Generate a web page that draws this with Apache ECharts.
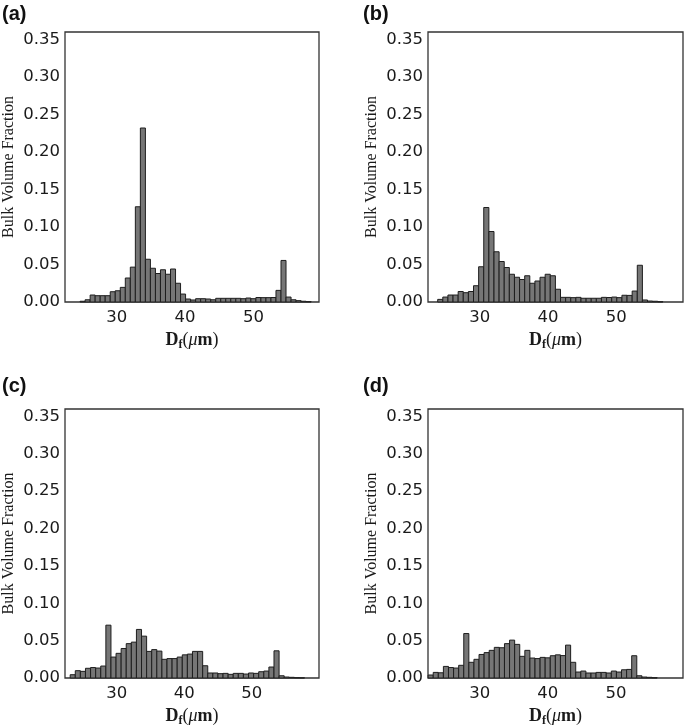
<!DOCTYPE html>
<html>
<head>
<meta charset="utf-8">
<script src="https://cdn.jsdelivr.net/npm/echarts@6/dist/echarts.min.js"></script>
<style>html,body{margin:0;padding:0;background:#fff;}#main{width:685px;height:728px;}</style>
</head>
<body>
<div id="main"></div>
<script>
// Panel labels
const panelLabels = ['(a)', '(b)', '(c)', '(d)'];
// Tick labels
const xTicks = [30, 40, 50];
const yTicks = [0, 0.05, 0.10, 0.15, 0.20, 0.25, 0.30, 0.35];
const yMax = 0.36;
const xLimits = [[22.43, 59.6], [22.43, 59.8], [22.33, 59.97], [22.43, 59.81]];
// Histogram bins: first edge and bin width (µm) per panel
const binStartA = 24.64, binWidthA = 0.735;
const binStartB = 23.85, binWidthB = 0.75;
const binStartC = 23.1,  binWidthC = 0.755;
const binStartD = 22.45, binWidthD = 0.746;
// Bulk volume fraction per bin
const valuesA = [0.001,0.003,0.0093,0.0084,0.0084,0.0084,0.0137,0.015,0.0195,0.032,0.0465,0.127,0.232,0.057,0.045,0.038,0.043,0.037,0.044,0.025,0.0106,0.004,0.0027,0.0044,0.0044,0.004,0.003,0.0049,0.0049,0.0049,0.0049,0.0049,0.0044,0.0053,0.0044,0.006,0.0058,0.0058,0.006,0.0155,0.0554,0.0066,0.003,0.0018,0.001,0.0005];
const valuesB = [0.0035,0.0066,0.0093,0.0093,0.014,0.0124,0.014,0.0217,0.047,0.126,0.094,0.067,0.054,0.046,0.037,0.033,0.030,0.035,0.025,0.028,0.033,0.037,0.035,0.017,0.0062,0.0062,0.0058,0.0062,0.005,0.005,0.005,0.005,0.0062,0.006,0.0066,0.0058,0.009,0.0088,0.0146,0.049,0.0027,0.0013,0.001,0.0004];
const valuesC = [0.0044,0.0098,0.0089,0.013,0.014,0.0133,0.016,0.0707,0.028,0.033,0.0395,0.046,0.048,0.065,0.056,0.0356,0.038,0.036,0.025,0.026,0.026,0.028,0.031,0.032,0.0356,0.0356,0.0164,0.0067,0.0067,0.0058,0.0062,0.0049,0.0062,0.0062,0.0053,0.0067,0.0062,0.0084,0.0093,0.0147,0.0364,0.003,0.0013,0.0009,0.0004,0.0002];
const valuesD = [0.004,0.0075,0.007,0.0155,0.014,0.0133,0.017,0.0595,0.021,0.025,0.0315,0.034,0.037,0.041,0.0405,0.046,0.0507,0.045,0.029,0.037,0.0267,0.026,0.0276,0.027,0.0298,0.031,0.030,0.044,0.021,0.008,0.0093,0.0067,0.0067,0.0075,0.0075,0.0067,0.0093,0.008,0.011,0.0115,0.0298,0.003,0.0013,0.0009,0.0004];

const panels = [
  {start: binStartA, width: binWidthA, values: valuesA},
  {start: binStartB, width: binWidthB, values: valuesB},
  {start: binStartC, width: binWidthC, values: valuesC},
  {start: binStartD, width: binWidthD, values: valuesD}
];

const gridPos = [
  {left: 64, top: 32}, {left: 428, top: 32},
  {left: 64, top: 409}, {left: 428, top: 409}
];
const labelPos = [[2, 4], [363, 4], [2, 376], [363, 376]];

const chart = echarts.init(document.getElementById('main'), null, {renderer: 'canvas'});

function renderBar(params, api) {
  const x0 = api.value(0), x1 = api.value(1), h = api.value(2);
  const p0 = api.coord([x0, h]);
  const p1 = api.coord([x1, 0]);
  return {
    type: 'rect',
    shape: {x: p0[0], y: p0[1], width: p1[0] - p0[0], height: p1[1] - p0[1]},
    style: {fill: '#767676', stroke: '#1e1e1e', lineWidth: 1}
  };
}

const tickFont = {fontFamily: 'DejaVu Sans', fontSize: 16.5, color: '#1a1a1a'};

const option = {
  animation: false,
  backgroundColor: '#fff',
  grid: gridPos.map(g => ({left: g.left, top: g.top, width: 255, height: 270, show: true, borderColor: '#333', borderWidth: 1.3, backgroundColor: 'transparent', containLabel: false})),
  xAxis: panels.map((p, i) => ({
    type: 'value', gridIndex: i, min: xLimits[i][0], max: xLimits[i][1],
    axisLine: {show: false}, axisTick: {show: false}, splitLine: {show: false},
    axisLabel: Object.assign({customValues: xTicks, margin: 7, formatter: v => String(Math.round(v))}, tickFont),
    name: '{b|D}{s|f}{r|(}{i|μ}{b|m}{r|)}',
    nameLocation: 'middle', nameGap: 27,
    nameTextStyle: {
      rich: {
        b: {fontFamily: 'Liberation Serif', fontWeight: 'bold', fontSize: 18, color: '#1a1a1a', lineHeight: 22, verticalAlign: 'middle'},
        s: {fontFamily: 'Liberation Serif', fontWeight: 'bold', fontSize: 12, color: '#1a1a1a', lineHeight: 12, verticalAlign: 'bottom'},
        r: {fontFamily: 'Liberation Serif', fontSize: 18, color: '#1a1a1a', lineHeight: 22, verticalAlign: 'middle'},
        i: {fontFamily: 'Liberation Serif', fontStyle: 'italic', fontSize: 18, color: '#1a1a1a', lineHeight: 22, verticalAlign: 'middle'}
      }
    }
  })),
  yAxis: panels.map((p, i) => ({
    type: 'value', gridIndex: i, min: 0, max: yMax,
    axisLine: {show: false}, axisTick: {show: false}, splitLine: {show: false},
    axisLabel: Object.assign({customValues: yTicks, margin: 5, formatter: v => v.toFixed(2)}, tickFont),
    name: 'Bulk Volume Fraction', nameLocation: 'middle', nameGap: 48, nameRotate: 90,
    nameTextStyle: {fontFamily: 'Liberation Serif', fontSize: 16, color: '#1a1a1a'}
  })),
  series: panels.map((p, i) => ({
    type: 'custom', xAxisIndex: i, yAxisIndex: i,
    renderItem: renderBar,
    encode: {x: [0, 1], y: 2},
    data: p.values.map((v, k) => [p.start + k * p.width, p.start + (k + 1) * p.width, v])
  })),
  graphic: panelLabels.map((t, i) => ({
    type: 'text', left: labelPos[i][0], top: labelPos[i][1],
    style: {text: t, font: 'bold 20px "Liberation Sans"', fill: '#111'}
  }))
};
chart.setOption(option);
</script>
</body>
</html>
